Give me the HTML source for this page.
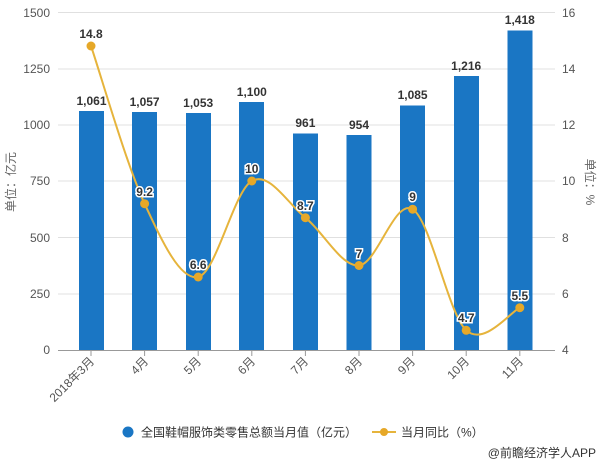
<!DOCTYPE html>
<html><head><meta charset="utf-8"><style>body{margin:0;background:#fff}svg{display:block;font-family:"Liberation Sans","Noto Sans CJK SC",sans-serif}</style></head><body>
<svg width="601" height="464" viewBox="0 0 601 464">
<g stroke="#e0e0e0" stroke-width="1">
<line x1="58" y1="12.5" x2="555" y2="12.5"/><line x1="58" y1="69" x2="555" y2="69"/><line x1="58" y1="125" x2="555" y2="125"/><line x1="58" y1="181" x2="555" y2="181"/><line x1="58" y1="237.5" x2="555" y2="237.5"/><line x1="58" y1="294" x2="555" y2="294"/>
</g>
<g fill="#555" font-size="12" text-anchor="end">
<text x="50" y="17">1500</text><text x="50" y="73">1250</text><text x="50" y="129">1000</text><text x="50" y="185">750</text><text x="50" y="242">500</text><text x="50" y="298">250</text><text x="50" y="354">0</text>
</g>
<g fill="#555" font-size="12">
<text x="562" y="17">16</text><text x="562" y="73">14</text><text x="562" y="129">12</text><text x="562" y="185">10</text><text x="562" y="242">8</text><text x="562" y="298">6</text><text x="562" y="354">4</text>
</g>
<text transform="translate(15,182) rotate(-90)" font-size="12" fill="#666" text-anchor="middle">单位：亿元</text>
<text transform="translate(586,182) rotate(90)" font-size="12" fill="#666" text-anchor="middle">单位：%</text>
<g fill="#1a76c4">
<rect x="79" y="111" width="25" height="239"/><rect x="132" y="112" width="25" height="238"/><rect x="186" y="113" width="25" height="237"/><rect x="239" y="102" width="25" height="248"/><rect x="293" y="133.5" width="25" height="216.5"/><rect x="346.5" y="135" width="25" height="215"/><rect x="400" y="105.5" width="25" height="244.5"/><rect x="454" y="76" width="25" height="274"/><rect x="507.5" y="30.5" width="25" height="319.5"/>
</g>
<line x1="58" y1="350.5" x2="555" y2="350.5" stroke="#999"/>
<g stroke="#999"><line x1="91" y1="350" x2="91" y2="356"/><line x1="144.6" y1="350" x2="144.6" y2="356"/><line x1="198.2" y1="350" x2="198.2" y2="356"/><line x1="251.8" y1="350" x2="251.8" y2="356"/><line x1="305.4" y1="350" x2="305.4" y2="356"/><line x1="359" y1="350" x2="359" y2="356"/><line x1="412.6" y1="350" x2="412.6" y2="356"/><line x1="466.2" y1="350" x2="466.2" y2="356"/><line x1="519.8" y1="350" x2="519.8" y2="356"/></g>
<g fill="#555" font-size="12" text-anchor="end">
<text transform="translate(95,362) rotate(-45)">2018年3月</text><text transform="translate(149,362) rotate(-45)">4月</text><text transform="translate(202,362) rotate(-45)">5月</text><text transform="translate(256,362) rotate(-45)">6月</text><text transform="translate(309,362) rotate(-45)">7月</text><text transform="translate(363,362) rotate(-45)">8月</text><text transform="translate(416,362) rotate(-45)">9月</text><text transform="translate(470,362) rotate(-45)">10月</text><text transform="translate(524,362) rotate(-45)">11月</text>
</g>
<g fill="#333" font-size="12" font-weight="bold" text-anchor="middle">
<text x="91.5" y="105">1,061</text><text x="144.6" y="106">1,057</text><text x="198.2" y="107">1,053</text><text x="251.8" y="96">1,100</text><text x="305.4" y="127">961</text><text x="359" y="129">954</text><text x="412.6" y="99">1,085</text><text x="466.2" y="70">1,216</text><text x="519.8" y="24">1,418</text>
</g>
<path d="M91,46 C100,72.3 126.7,165.2 144.6,203.7 C162.5,242.2 180.3,280.8 198.2,277 C216.1,273.2 233.9,190.9 251.8,181 C269.7,171.1 287.5,203.6 305.4,217.7 C323.3,231.8 341.1,266.9 359,265.5 C376.9,264.1 394.7,198.4 412.6,209.2 C430.5,220 448.3,313.9 466.2,330.3 C484.1,346.7 510.9,311.5 519.8,307.7" fill="none" stroke="#e6b43c" stroke-width="2"/>
<g fill="#e6a828"><circle cx="91" cy="46" r="4.5"/><circle cx="144.6" cy="203.7" r="4.5"/><circle cx="198.2" cy="277" r="4.5"/><circle cx="251.8" cy="181" r="4.5"/><circle cx="305.4" cy="217.7" r="4.5"/><circle cx="359" cy="265.5" r="4.5"/><circle cx="412.6" cy="209.2" r="4.5"/><circle cx="466.2" cy="330.3" r="4.5"/><circle cx="519.8" cy="307.7" r="4.5"/></g>
<g fill="#333" font-size="12" font-weight="bold" text-anchor="middle" stroke="#fff" stroke-width="3" paint-order="stroke">
<text x="91" y="38">14.8</text><text x="144.6" y="196">9.2</text><text x="198.2" y="269">6.6</text><text x="251.8" y="173">10</text><text x="305.4" y="210">8.7</text><text x="359" y="258">7</text><text x="412.6" y="201">9</text><text x="466.2" y="322">4.7</text><text x="519.8" y="300">5.5</text>
</g>
<circle cx="128" cy="432" r="5.5" fill="#1a76c4"/>
<text x="141" y="436.5" font-size="12" fill="#333">全国鞋帽服饰类零售总额当月值（亿元）</text>
<line x1="372" y1="432" x2="396" y2="432" stroke="#e6b43c" stroke-width="2"/>
<circle cx="384" cy="432" r="4" fill="#e6a828"/>
<text x="401" y="436.5" font-size="12" fill="#333">当月同比（%）</text>
<text x="596" y="457" font-size="12" fill="#333" text-anchor="end">@前瞻经济学人APP</text>
</svg>
</body></html>
